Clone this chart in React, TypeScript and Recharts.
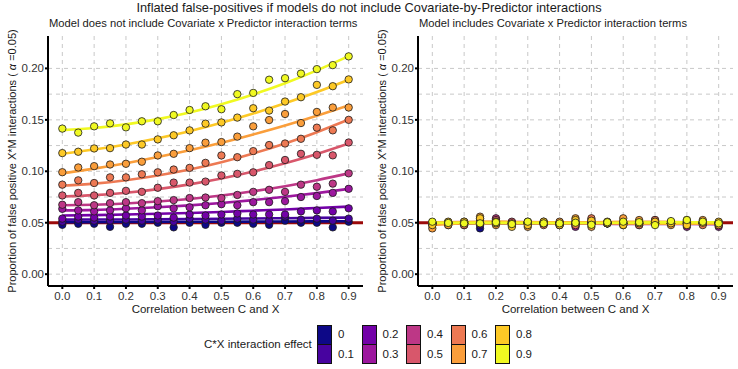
import React from "react";
import {
  CartesianGrid,
  ComposedChart,
  Line,
  Scatter,
  XAxis,
  YAxis,
} from "recharts";

// correlation between C and X (x positions of the simulated points)
const corr = [
  0, 0.05, 0.1, 0.15, 0.2, 0.25, 0.3, 0.35, 0.4, 0.45, 0.5, 0.55, 0.6, 0.65,
  0.7, 0.75, 0.8, 0.85, 0.9,
];
const fitX = [0, 0.1, 0.2, 0.3, 0.4, 0.5, 0.6, 0.7, 0.8, 0.9];

const effects = ["0", "0.1", "0.2", "0.3", "0.4", "0.5", "0.6", "0.7", "0.8", "0.9"];
const colours = [
  "#0D0887", "#47039F", "#7301A8", "#9C179E", "#BD3786",
  "#D8576B", "#ED7953", "#FA9E3B", "#FDC926", "#F0F921",
];

const xTicks = [0, 0.1, 0.2, 0.3, 0.4, 0.5, 0.6, 0.7, 0.8, 0.9];
const yTicks = [0, 0.05, 0.1, 0.15, 0.2];
const yGrid = [0, 0.025, 0.05, 0.075, 0.1, 0.125, 0.15, 0.175, 0.2];
const alpha = 0.05;
const xDomain = [-0.045, 0.945];
const yDomain = [-0.0115, 0.2315];

// panel 1: model without Covariate x Predictor terms (one row per effect size)
const noIntPoints = [
  [0.048, 0.049, 0.049, 0.046, 0.049, 0.049, 0.05, 0.0455, 0.05, 0.048, 0.05, 0.05, 0.049, 0.048, 0.052, 0.05, 0.05, 0.0455, 0.051],
  [0.051, 0.053, 0.052, 0.052, 0.053, 0.052, 0.053, 0.051, 0.054, 0.053, 0.052, 0.054, 0.053, 0.052, 0.056, 0.053, 0.054, 0.052, 0.054],
  [0.054, 0.056, 0.055, 0.056, 0.057, 0.056, 0.057, 0.055, 0.058, 0.057, 0.058, 0.059, 0.058, 0.058, 0.058, 0.061, 0.062, 0.061, 0.064],
  [0.0635, 0.062, 0.061, 0.062, 0.064, 0.062, 0.066, 0.064, 0.065, 0.067, 0.068, 0.067, 0.07, 0.07, 0.071, 0.075, 0.076, 0.079, 0.083],
  [0.0675, 0.07, 0.067, 0.069, 0.07, 0.069, 0.071, 0.072, 0.074, 0.0745, 0.074, 0.077, 0.08, 0.082, 0.08, 0.087, 0.085, 0.088, 0.098],
  [0.0765, 0.079, 0.0765, 0.079, 0.081, 0.08, 0.084, 0.089, 0.089, 0.09, 0.096, 0.0975, 0.099, 0.106, 0.111, 0.117, 0.116, 0.1155, 0.128],
  [0.087, 0.0912, 0.0886, 0.0941, 0.0941, 0.0971, 0.099, 0.1017, 0.1033, 0.1082, 0.1154, 0.1137, 0.1196, 0.1255, 0.127, 0.1316, 0.1424, 0.1398, 0.15],
  [0.0991, 0.1037, 0.105, 0.1066, 0.1073, 0.1093, 0.1154, 0.117, 0.1225, 0.1278, 0.1284, 0.1337, 0.1437, 0.1498, 0.1557, 0.1469, 0.1577, 0.162, 0.162],
  [0.1177, 0.119, 0.1222, 0.1225, 0.126, 0.126, 0.131, 0.135, 0.1398, 0.1463, 0.1475, 0.1522, 0.1613, 0.159, 0.1678, 0.172, 0.184, 0.1827, 0.1893],
  [0.1415, 0.1376, 0.1437, 0.1466, 0.1427, 0.1486, 0.1486, 0.1547, 0.1596, 0.1632, 0.1603, 0.175, 0.1762, 0.189, 0.1905, 0.195, 0.1993, 0.2032, 0.2117],
];
const noIntFits = [
  [0.0505, 0.0506, 0.0507, 0.0508, 0.0509, 0.051, 0.0511, 0.0512, 0.0513, 0.0515],
  [0.053, 0.0531, 0.0532, 0.0534, 0.0536, 0.0538, 0.0541, 0.0544, 0.0547, 0.055],
  [0.057, 0.0574, 0.058, 0.0587, 0.0595, 0.0605, 0.0617, 0.0629, 0.0643, 0.0657],
  [0.062, 0.0625, 0.0636, 0.065, 0.0669, 0.0692, 0.072, 0.0752, 0.0788, 0.0829],
  [0.067, 0.0675, 0.0687, 0.0706, 0.0731, 0.0764, 0.0806, 0.0855, 0.0913, 0.098],
  [0.0755, 0.0768, 0.0792, 0.0827, 0.0873, 0.093, 0.0998, 0.1078, 0.1168, 0.127],
  [0.086, 0.088, 0.0913, 0.0959, 0.1017, 0.1088, 0.1173, 0.127, 0.138, 0.1503],
  [0.098, 0.1026, 0.1078, 0.1138, 0.1204, 0.1277, 0.1358, 0.1445, 0.154, 0.1641],
  [0.117, 0.1211, 0.1261, 0.1321, 0.139, 0.1471, 0.1561, 0.1661, 0.177, 0.189],
  [0.14, 0.1421, 0.1456, 0.1507, 0.1572, 0.1652, 0.1747, 0.1856, 0.1981, 0.212],
];

// panel 2: model with Covariate x Predictor terms
const withIntPoints = [
  [0.0494, 0.0494, 0.0494, 0.0445, 0.0505, 0.0494, 0.0494, 0.0494, 0.0494, 0.0494, 0.0494, 0.0494, 0.0494, 0.0494, 0.0494, 0.0494, 0.0494, 0.0494, 0.0494],
  [0.0494, 0.0505, 0.0494, 0.0477, 0.0494, 0.0494, 0.0505, 0.0494, 0.0505, 0.0494, 0.0494, 0.0505, 0.0494, 0.0494, 0.0505, 0.0494, 0.0505, 0.0494, 0.0505],
  [0.0494, 0.0494, 0.0477, 0.0494, 0.051, 0.0505, 0.0494, 0.0494, 0.0494, 0.0477, 0.0494, 0.0494, 0.0494, 0.0477, 0.0494, 0.0494, 0.0494, 0.051, 0.0494],
  [0.0477, 0.0494, 0.051, 0.0494, 0.0526, 0.0494, 0.0494, 0.0505, 0.0477, 0.046, 0.051, 0.0494, 0.0494, 0.0505, 0.0494, 0.051, 0.046, 0.0505, 0.046],
  [0.0494, 0.0477, 0.0494, 0.0505, 0.0543, 0.0477, 0.0505, 0.0494, 0.0494, 0.051, 0.0494, 0.0494, 0.051, 0.0494, 0.0526, 0.0494, 0.051, 0.0494, 0.0494],
  [0.0505, 0.0494, 0.0494, 0.0543, 0.0526, 0.051, 0.0494, 0.051, 0.0477, 0.0494, 0.0526, 0.0505, 0.0477, 0.051, 0.051, 0.0505, 0.0477, 0.0494, 0.0477],
  [0.0494, 0.0505, 0.0477, 0.0526, 0.051, 0.0477, 0.051, 0.0477, 0.0494, 0.0477, 0.0543, 0.0494, 0.0494, 0.0477, 0.0526, 0.0494, 0.0494, 0.0477, 0.0494],
  [0.0445, 0.0477, 0.0505, 0.0559, 0.0477, 0.0494, 0.046, 0.0494, 0.051, 0.0543, 0.046, 0.051, 0.0543, 0.0526, 0.0494, 0.0477, 0.0526, 0.0526, 0.0477],
  [0.0477, 0.051, 0.051, 0.0543, 0.0494, 0.046, 0.0477, 0.051, 0.0477, 0.0526, 0.052, 0.0494, 0.0477, 0.0494, 0.051, 0.0494, 0.0477, 0.05, 0.051],
  [0.051, 0.0498, 0.0494, 0.0494, 0.0505, 0.0487, 0.051, 0.0494, 0.0494, 0.05, 0.048, 0.0505, 0.051, 0.0505, 0.0477, 0.0516, 0.0526, 0.051, 0.0494],
];
const withIntFits = [
  [0.0494, 0.0494, 0.0494, 0.0494, 0.0494, 0.0494, 0.0494, 0.0494, 0.0494, 0.0494],
  [0.0496, 0.0496, 0.0497, 0.0497, 0.0497, 0.0498, 0.0498, 0.0498, 0.0499, 0.0499],
  [0.0492, 0.0493, 0.0494, 0.0494, 0.0494, 0.0494, 0.0494, 0.0494, 0.0494, 0.0495],
  [0.0494, 0.0496, 0.0496, 0.0495, 0.0493, 0.049, 0.0489, 0.0488, 0.0487, 0.0486],
  [0.0495, 0.0496, 0.0498, 0.05, 0.0501, 0.0501, 0.0501, 0.0501, 0.0501, 0.0501],
  [0.0505, 0.0507, 0.0508, 0.0506, 0.0502, 0.0499, 0.0497, 0.0495, 0.0492, 0.049],
  [0.0496, 0.0497, 0.0498, 0.0497, 0.0495, 0.0495, 0.0496, 0.0497, 0.0495, 0.0491],
  [0.0478, 0.0495, 0.0505, 0.0505, 0.0504, 0.0505, 0.0509, 0.0509, 0.0505, 0.0497],
  [0.0496, 0.0505, 0.0508, 0.0503, 0.0498, 0.0497, 0.0495, 0.0493, 0.0493, 0.0496],
  [0.0501, 0.0497, 0.0496, 0.0496, 0.0496, 0.0497, 0.05, 0.0503, 0.0505, 0.0505],
];

const FONT = "'Liberation Sans', Arial, Helvetica, sans-serif";
const TEXT = "#333";

type PanelProps = {
  left: number;
  subtitle: string;
  points: number[][];
  fits: number[][];
};

const Panel = ({ left, subtitle, points, fits }: PanelProps) => {
  const alphaLine = [
    { x: xDomain[0], y: alpha },
    { x: xDomain[1], y: alpha },
  ];
  return (
    <div style={{ position: "absolute", left, top: 0, width: 370, height: 320 }}>
      <div
        style={{
          position: "absolute",
          left: 49,
          top: 17,
          fontSize: 11.2,
          color: "#1a1a1a",
          whiteSpace: "nowrap",
        }}
      >
        {subtitle}
      </div>
      <div
        style={{
          position: "absolute",
          left: 12,
          top: 161,
          transform: "translate(-50%, -50%) rotate(-90deg)",
          fontSize: 11,
          color: "#1a1a1a",
          whiteSpace: "nowrap",
        }}
      >
        Proportion of false positive X*M interactions ( <i>α</i> =0.05)
      </div>
      <ComposedChart
        width={370}
        height={310}
        margin={{ top: 36, right: 7, bottom: 0, left: 0 }}
        style={{ position: "absolute", left: 0, top: 0 }}
      >
        <CartesianGrid
          stroke="#c8c8c8"
          strokeDasharray="4 4"
          horizontalValues={yGrid}
          verticalValues={xTicks}
        />
        <XAxis
          type="number"
          dataKey="x"
          domain={xDomain}
          ticks={xTicks}
          tickFormatter={(v: number) => v.toFixed(1)}
          allowDataOverflow
          height={24}
          tickSize={3}
          tickMargin={3}
          axisLine={{ stroke: "#000", strokeWidth: 2 }}
          tickLine={{ stroke: "#000", strokeWidth: 2 }}
          tick={{ fill: TEXT, fontSize: 11.5, fontFamily: FONT }}
        />
        <YAxis
          type="number"
          dataKey="y"
          domain={yDomain}
          ticks={yTicks}
          tickFormatter={(v: number) => v.toFixed(2)}
          allowDataOverflow
          width={48}
          tickSize={3}
          tickMargin={1}
          axisLine={{ stroke: "#000", strokeWidth: 2 }}
          tickLine={{ stroke: "#000", strokeWidth: 2 }}
          tick={{ fill: TEXT, fontSize: 11.5, fontFamily: FONT }}
        />
        <Line
          data={alphaLine}
          dataKey="y"
          stroke="#9B0A0A"
          strokeWidth={3}
          dot={false}
          isAnimationActive={false}
        />
        {fits.map((vals, s) => (
          <Line
            key={"fit" + s}
            data={vals.map((y, i) => ({ x: fitX[i], y }))}
            dataKey="y"
            type="natural"
            stroke={colours[s]}
            strokeWidth={2.6}
            dot={false}
            isAnimationActive={false}
          />
        ))}
        {points.map((vals, s) => (
          <Scatter
            key={"pts" + s}
            data={vals.map((y, i) => ({ x: corr[i], y }))}
            dataKey="y"
            isAnimationActive={false}
            shape={(p: any) => (
              <circle
                cx={p.cx}
                cy={p.cy}
                r={3.7}
                fill={colours[s]}
                stroke="#1a1a1a"
                strokeWidth={0.8}
              />
            )}
          />
        ))}
      </ComposedChart>
      <div
        style={{
          position: "absolute",
          left: 48,
          width: 315,
          top: 303,
          textAlign: "center",
          fontSize: 11.5,
          color: "#1a1a1a",
        }}
      >
        Correlation between C and X
      </div>
    </div>
  );
};

const Legend = () => (
  <div style={{ position: "absolute", left: 204, top: 325, height: 40 }}>
    <div
      style={{
        position: "absolute",
        left: 0,
        top: 13,
        fontSize: 11.5,
        color: "#1a1a1a",
        whiteSpace: "nowrap",
      }}
    >
      C*X interaction effect
    </div>
    {effects.map((e, i) => {
      const col = Math.floor(i / 2);
      const row = i % 2;
      return (
        <div
          key={e}
          style={{ position: "absolute", left: 113 + col * 44.5, top: row * 19.5 }}
        >
          <div
            style={{
              width: 15,
              height: 19.5,
              boxSizing: "border-box",
              background: colours[i],
              border: "1px solid #111",
              borderTopWidth: row === 0 ? 1 : 0,
            }}
          />
          <div
            style={{
              position: "absolute",
              left: 21,
              top: 3,
              fontSize: 11.5,
              color: "#1a1a1a",
            }}
          >
            {e}
          </div>
        </div>
      );
    })}
  </div>
);

export default function App() {
  return (
    <div
      style={{
        position: "absolute",
        left: 0,
        top: 0,
        width: 738,
        height: 369,
        background: "#fff",
        fontFamily: FONT,
        overflow: "hidden",
      }}
    >
      <div
        style={{
          position: "absolute",
          left: 0,
          width: 738,
          top: 0,
          textAlign: "center",
          fontSize: 12.8,
          color: "#1a1a1a",
        }}
      >
        Inflated false-positives if models do not include Covariate-by-Predictor interactions
      </div>
      <Panel
        left={0}
        subtitle="Model does not include Covariate x Predictor interaction terms"
        points={noIntPoints}
        fits={noIntFits}
      />
      <Panel
        left={370}
        subtitle="Model includes Covariate x Predictor interaction terms"
        points={withIntPoints}
        fits={withIntFits}
      />
      <Legend />
    </div>
  );
}
